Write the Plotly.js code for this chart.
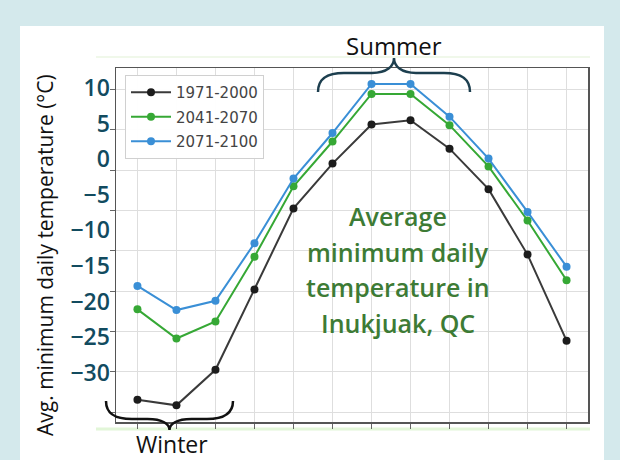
<!DOCTYPE html>
<html><head><meta charset="utf-8">
<script src="https://cdn.plot.ly/plotly-3.0.1.min.js"></script>
<style>html,body{margin:0;padding:0;background:#d4e9ec}#chart{width:620px;height:460px}</style>
</head><body><div id="chart"></div>
<script>
// ---- data (on its printed axis scale) ----
const months = ['Jan','Feb','Mar','Apr','May','Jun','Jul','Aug','Sep','Oct','Nov','Dec'];
const period1971 = [-33.8,-34.6,-29.6,-18.3,-6.9,-0.6,4.9,5.5,1.5,-4.2,-13.4,-25.5];
const period2041 = [-21.1,-25.2,-22.8,-13.7,-3.8,2.5,9.2,9.2,4.8,-1.0,-8.6,-17.0];
const period2071 = [-17.8,-21.2,-19.9,-11.8,-2.7,3.7,10.6,10.6,6.0,0.1,-7.4,-15.1];
const seriesNames = ['1971-2000','2041-2070','2071-2100'];
const yTickLabels = [10,5,0,-5,-10,-15,-20,-25,-30];
const centerLines = ['Average','minimum daily','temperature in','Inukjuak, QC'];
const yTitle = 'Avg. minimum daily temperature (°C)';

// ---- geometry helpers ----
const W=620,H=460,L=116,R=32,T=68,B=38;
const pw=W-L-R, ph=H-T-B;
const px = x => (x-L)/pw;
const py = y => (H-B-y)/ph;
function brace(x0,x1,yEnd,yMid,yTip){
  const xm=(x0+x1)/2;
  const p=(x,y)=>px(x).toFixed(5)+','+py(y).toFixed(5);
  const yA=yEnd+0.75*(yMid-yEnd), yB=yMid+0.45*(yTip-yMid);
  return 'M'+p(x0,yEnd)+' C'+p(x0,yA)+' '+p(x0+10,yMid)+' '+p(x0+26,yMid)+
    ' L'+p(xm-22,yMid)+' C'+p(xm-7,yMid)+' '+p(xm,yB)+' '+p(xm,yTip)+
    ' C'+p(xm,yB)+' '+p(xm+7,yMid)+' '+p(xm+22,yMid)+
    ' L'+p(x1-26,yMid)+' C'+p(x1-10,yMid)+' '+p(x1,yA)+' '+p(x1,yEnd);
}
function note(text,x,y,font,extra){
  return Object.assign({text:text, x:px(x), y:py(y), xref:'paper', yref:'paper', showarrow:false,
    xanchor:'center', yanchor:'middle', font:font}, extra||{});
}

const colors=['#1c1c1c','#36a835','#3a8fd6'];
const lineColors=['#3a3a3a','#36a835','#3a8fd6'];
const allSeries=[period1971,period2041,period2071];
const traces = allSeries.map((vals,i)=>({
  x: months, y: vals, name: seriesNames[i], legendgroup:'g'+i, type:'scatter', mode:'lines+markers',
  line:{color:lineColors[i], width:2}, marker:{color:colors[i], size:8}
}));

const annotations = [
  note(yTitle,45,255,{family:'Open Sans', size:21, color:'#111', weight:500},{textangle:-90}),
  note('Summer',394,45,{family:'Open Sans', size:24, color:'#111'}),
  note('Winter',172,444,{family:'Open Sans', size:23, color:'#111'})
];
const lineY=[216,252,287,323];
centerLines.forEach((t,i)=>annotations.push(
  note(t,398,lineY[i],{family:'Open Sans', size:25, color:'#3d7b35', weight:600})));

const layout = {
  width:W, height:H, margin:{l:L,r:R,t:T,b:B},
  paper_bgcolor:'#d4e9ec', plot_bgcolor:'rgba(0,0,0,0)',
  showlegend:true,
  legend:{x:px(125), y:py(75), xanchor:'left', yanchor:'top', bgcolor:'rgba(255,255,255,0.95)',
    bordercolor:'#d0d0d0', borderwidth:1, itemwidth:40, tracegroupgap:2,
    font:{family:'DejaVu Sans', size:15, color:'#444'}},
  xaxis:{type:'category', range:[-0.55,11.55], showticklabels:false, ticks:'outside', ticklen:5, tickcolor:'#666',
    showgrid:true, gridcolor:'#dedede', gridwidth:1, showline:true, linecolor:'#555', linewidth:1.5, mirror:true, zeroline:false},
  yaxis:{range:[-36.94,12.84], tickmode:'array', tickvals:yTickLabels, ticks:'', showgrid:false, zeroline:false,
    showline:true, linecolor:'#555', linewidth:1.5, mirror:true, ticklabelstandoff:0,
    tickfont:{family:'Open Sans', size:23, color:'#124b5f', weight:600}},
  yaxis2:{overlaying:'y', side:'left', range:[-31.23,12.64], dtick:5, tick0:0, showticklabels:false,
    ticks:'outside', ticklen:5, tickcolor:'#666', showgrid:true, gridcolor:'#dedede', zeroline:false, showline:false},
  shapes:[
    {type:'rect', xref:'paper', yref:'paper', x0:px(20), x1:px(604), y0:py(26), y1:py(461), fillcolor:'#ffffff', line:{width:0}, layer:'below'},
    {type:'line', xref:'paper', yref:'paper', x0:px(96), x1:px(590), y0:py(429), y1:py(429), line:{color:'#e2f6d8', width:3}, layer:'below'},
    {type:'line', xref:'paper', yref:'paper', x0:px(96), x1:px(590), y0:py(57), y1:py(57), line:{color:'#f0f8ea', width:2}, layer:'below'},
    {type:'path', xref:'paper', yref:'paper', path:brace(318,470,92,73,58), line:{color:'#1d3f4f', width:2.5}, layer:'above'},
    {type:'path', xref:'paper', yref:'paper', path:brace(106,233,401,419,430), line:{color:'#111', width:2.5}, layer:'above'}
  ],
  annotations: annotations
};
// an empty trace binds yaxis2 so its grid and ticks are drawn
traces.push({x:months, y:months.map(()=>null), yaxis:'y2', showlegend:false, hoverinfo:'skip', mode:'lines'});
Plotly.newPlot('chart', traces, layout, {displayModeBar:false, staticPlot:true});
</script></body></html>
